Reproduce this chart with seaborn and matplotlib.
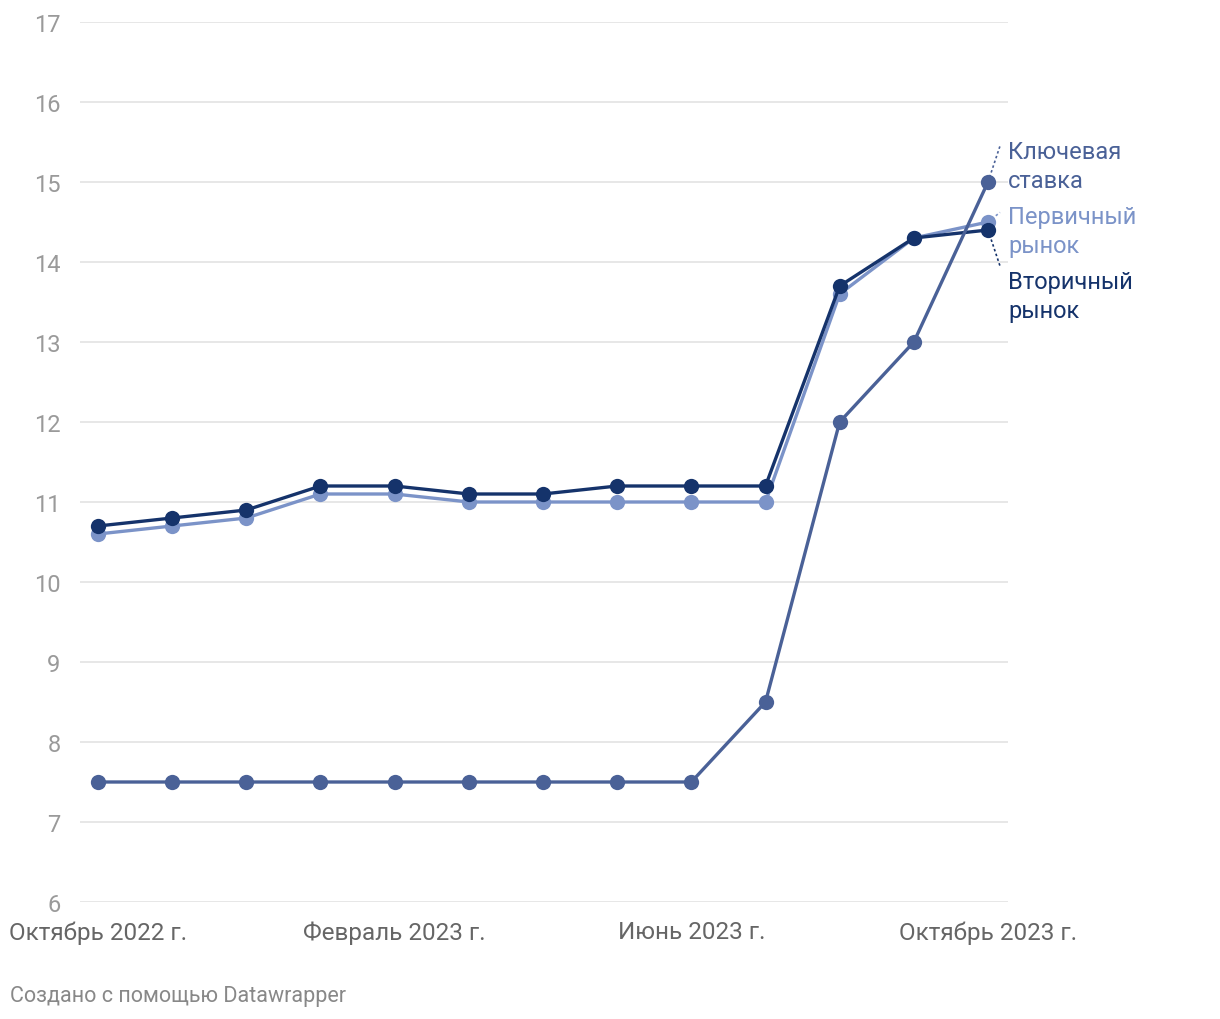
import numpy as np
import pandas as pd
import seaborn as sns
import matplotlib.pyplot as plt

months = ["Октябрь 2022 г.", "Ноябрь 2022 г.", "Декабрь 2022 г.", "Январь 2023 г.",
          "Февраль 2023 г.", "Март 2023 г.", "Апрель 2023 г.", "Май 2023 г.",
          "Июнь 2023 г.", "Июль 2023 г.", "Август 2023 г.", "Сентябрь 2023 г.",
          "Октябрь 2023 г."]
key_rate = [7.5, 7.5, 7.5, 7.5, 7.5, 7.5, 7.5, 7.5, 7.5, 8.5, 12, 13, 15]
primary = [10.6, 10.7, 10.8, 11.1, 11.1, 11.0, 11.0, 11.0, 11.0, 11.0, 13.6, 14.3, 14.5]
secondary = [10.7, 10.8, 10.9, 11.2, 11.2, 11.1, 11.1, 11.2, 11.2, 11.2, 13.7, 14.3, 14.4]
shown_ticks = [0, 4, 8, 12]
y_ticks = list(range(6, 18))

names = ["Первичный\nрынок", "Вторичный\nрынок", "Ключевая\nставка"]
colors = {"Первичный\nрынок": "#7b93c8", "Вторичный\nрынок": "#15336b", "Ключевая\nставка": "#4a6197"}
series = {"Первичный\nрынок": primary, "Вторичный\nрынок": secondary, "Ключевая\nставка": key_rate}

df = pd.concat([pd.DataFrame({"idx": np.arange(len(months)), "value": series[n], "series": n}) for n in names])

sns.set_theme(style="white")
plt.rcParams['font.family'] = ['Roboto', 'DejaVu Sans']

fig = plt.figure(figsize=(12.2, 10.2), dpi=100)
ax = fig.add_axes([80 / 1220, 1 - 903 / 1020, 928 / 1220, 880 / 1020])

for n in names:
    sns.lineplot(data=df[df["series"] == n], x="idx", y="value", ax=ax, color=colors[n],
                 linewidth=2.4, marker="o", markersize=11, markeredgewidth=0, legend=False,
                 clip_on=False)

ax.set_xlim(-18 / 74.17, 12 + 20 / 74.17)
ax.set_ylim(6, 17)
ax.set_yticks(y_ticks)
ax.set_yticklabels([str(v) for v in y_ticks])
ax.set_xticks(shown_ticks)
ax.set_xticklabels([months[i] for i in shown_ticks])
ax.grid(axis="y", color="#e0e0e0", linewidth=1.1)
ax.grid(axis="x", visible=False)
for s in ax.spines.values():
    s.set_visible(False)
ax.tick_params(axis="y", length=0, pad=14, labelsize=17, labelcolor="#9a9a9a")
ax.tick_params(axis="x", length=0, pad=13, labelsize=17.5, labelcolor="#666666")
ax.set_xlabel("")
ax.set_ylabel("")

# end labels with dotted leaders
last = len(months) - 1
label_x = 12 + 20 / 74.17
offsets = {"Ключевая\nставка": (0.45, 0.2), "Первичный\nрынок": (0.12, -0.11), "Вторичный\nрынок": (-0.45, -0.825)}
for n in names:
    yv = series[n][last]
    lead_dy, text_dy = offsets[n]
    ax.plot([last, last + 12 / 74.17], [yv, yv + lead_dy], linestyle=(0, (1.5, 1.5)),
            color=colors[n], linewidth=1.2, clip_on=False)
    ax.text(label_x, yv + text_dy, n, color=colors[n], fontsize=17, va="center", ha="left",
            linespacing=1.32)

fig.text(10 / 1220, 1 - 997 / 1020, "Создано с помощью Datawrapper", fontsize=15.5,
         color="#888888", va="center", ha="left")

fig.savefig("out.png", dpi=100)
